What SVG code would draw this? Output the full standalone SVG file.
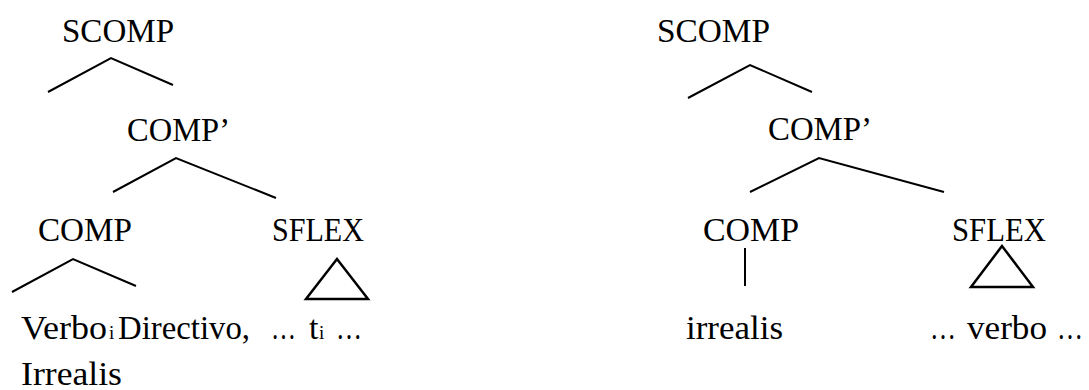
<svg xmlns="http://www.w3.org/2000/svg" width="1089" height="390" viewBox="0 0 1089 390">
<style>
text { font-family: "Liberation Serif", "DejaVu Serif", serif; font-size: 34px; fill: #000; }
.sub { font-size: 19px; }
.br { stroke: #000; stroke-width: 2; fill: none; }
.tri { stroke: #000; stroke-width: 2.5; fill: none; stroke-linejoin: miter; }
</style>
<rect width="1089" height="390" fill="#fff"/>
<g id="left-scomp"><text x="62" y="42" textLength="112" lengthAdjust="spacingAndGlyphs">SCOMP</text></g>
<g id="left-compbar"><text x="127" y="141" textLength="103" lengthAdjust="spacingAndGlyphs">COMP’</text></g>
<g id="left-comp"><text x="38" y="241" textLength="94" lengthAdjust="spacingAndGlyphs">COMP</text></g>
<g id="left-sflex"><text x="272" y="241" textLength="92" lengthAdjust="spacingAndGlyphs">SFLEX</text></g>
<g id="left-verbo">
<text x="21" y="339" textLength="86" lengthAdjust="spacingAndGlyphs">Verbo</text>
<text class="sub" x="109" y="339">i</text>
<text x="118" y="339" textLength="132" lengthAdjust="spacingAndGlyphs">Directivo,</text>
<text x="21" y="385" textLength="101" lengthAdjust="spacingAndGlyphs">Irrealis</text>
</g>
<g id="left-trace">
<text x="271" y="339" textLength="25" lengthAdjust="spacingAndGlyphs">…</text>
<text x="309" y="339">t</text>
<text class="sub" x="319" y="339">i</text>
<text x="336" y="339" textLength="26" lengthAdjust="spacingAndGlyphs">…</text>
</g>
<g id="right-scomp"><text x="657" y="42" textLength="113" lengthAdjust="spacingAndGlyphs">SCOMP</text></g>
<g id="right-compbar"><text x="768" y="140" textLength="104" lengthAdjust="spacingAndGlyphs">COMP’</text></g>
<g id="right-comp"><text x="703" y="241" textLength="96" lengthAdjust="spacingAndGlyphs">COMP</text></g>
<g id="right-sflex"><text x="952" y="241" textLength="94" lengthAdjust="spacingAndGlyphs">SFLEX</text></g>
<g id="right-irrealis"><text x="686" y="339" textLength="97" lengthAdjust="spacingAndGlyphs">irrealis</text></g>
<g id="right-verbo">
<text x="930" y="339" textLength="26" lengthAdjust="spacingAndGlyphs">…</text>
<text x="967" y="339" textLength="80" lengthAdjust="spacingAndGlyphs">verbo</text>
<text x="1057" y="339" textLength="26" lengthAdjust="spacingAndGlyphs">…</text>
</g>
<g id="connectors">
<polyline class="br" points="48,92 111,58 173,85"/>
<polyline class="br" points="113,192 176,158 276,198"/>
<polyline class="br" points="12,292 73,259 136,286"/>
<polygon class="tri" points="337,259 306,299 368,299"/>
<polyline class="br" points="688,98 750,65 812,92"/>
<polyline class="br" points="750,192 819,158 944,192"/>
<line class="br" x1="745" y1="248" x2="745" y2="286"/>
<polygon class="tri" points="1002,246 971,287 1033,287"/>
</g>
</svg>
